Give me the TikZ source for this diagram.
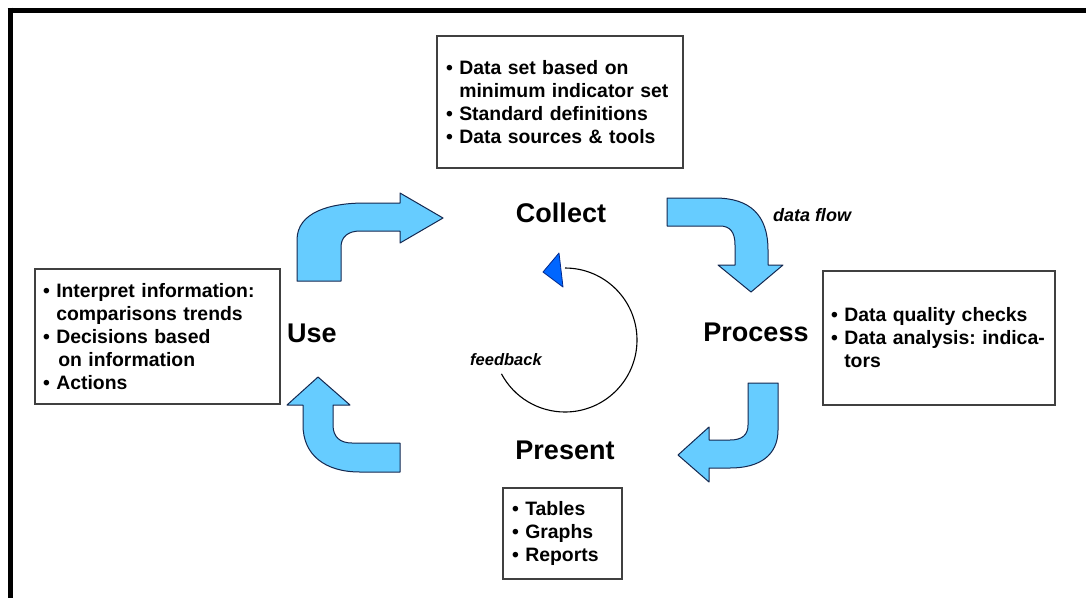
\documentclass[tikz,border=0pt]{standalone}
\usepackage{fontspec}
\setmainfont{Liberation Sans}
\frenchspacing
\begin{document}
\begin{tikzpicture}[x=1pt,y=-1pt,
  infobox/.style={draw=black!75, line width=1.4pt, fill=white, align=left,
    inner xsep=9pt, inner ysep=0pt, font=\bfseries\fontsize{19.4}{23}\selectfont},
  stage/.style={font=\bfseries\fontsize{27}{30}\selectfont},
  note/.style={font=\bfseries\itshape\fontsize{18}{20}\selectfont},
  bigarrow/.style={fill=arrowblue, draw=arrowedge, line width=1pt, line join=round},
  frame/.style={line width=5pt, black}
]
\definecolor{arrowblue}{RGB}{102,204,255}
\definecolor{arrowedge}{RGB}{20,40,80}
\definecolor{tipblue}{RGB}{0,102,255}
\definecolor{tipedge}{RGB}{0,40,140}
\newcommand{\bul}{\textbullet\ }
\newcommand{\ind}{\phantom{\textbullet\ }}

\useasboundingbox (0,0) rectangle (1086,598);
\fill[white] (0,0) rectangle (1086,598);

% outer frame (top and left edges)
\draw[frame] (7.5,10) -- (1086,10);
\draw[frame] (10,7.5) -- (10,598);

% information boxes
\node[infobox, minimum width=246pt, minimum height=132pt, text width=228pt] (collectbox) at (560,102)
  {\bul Data set based on\\ \ind minimum indicator set\\ \bul Standard definitions\\ \bul Data sources \& tools};
\node[infobox, minimum width=245pt, minimum height=135pt, text width=229pt, inner xsep=8pt] (usebox) at (157.5,336.5)
  {\bul Interpret information:\\ \ind comparisons trends\\ \bul Decisions based\\ \ind\hspace*{2pt}on information\\ \bul Actions};
\node[infobox, minimum width=232pt, minimum height=134pt, text width=216pt, inner xsep=8pt] (processbox) at (939,338)
  {\bul Data quality checks\\ \bul Data analysis: indica-\\ \ind tors};
\node[infobox, minimum width=119pt, minimum height=91pt, text width=101pt] (presentbox) at (562.5,533.5)
  {\bul Tables\\ \bul Graphs\\ \bul Reports};

% stage labels
\node[stage] (collect) at (561,213) {Collect};
\node[stage] (process) at (756,332) {Process};
\node[stage] (present) at (565,450) {Present};
\node[stage] (use) at (312,333) {Use};
\node[note] (dataflow) at (812,215) {data flow};
\node[note, font=\bfseries\itshape\fontsize{16.5}{19}\selectfont] (feedback) at (506,360) {feedback};

% feedback loop
\draw[line width=1.1pt] (565,268) arc[start angle=-90, end angle=152, radius=72];
\fill[tipblue, draw=tipedge, line width=0.8pt, line join=round] (543,272) -- (559,253) -- (563,287) -- cycle;

% curved block arrows
% Use -> Collect
\draw[bigarrow] (297,281) -- (297,240) .. controls (297,212) and (330,203) .. (365,203)
  -- (400,203) -- (400,193) -- (443,218) -- (400,243) -- (400,231) -- (360,231)
  .. controls (348,231) and (341,237) .. (341,247) -- (341,281) -- cycle;
% Collect -> Process
\draw[bigarrow] (667,198) -- (715,198) .. controls (750,198) and (768,215) .. (768,250)
  -- (768,265) -- (783,265) -- (751,292) -- (718,265) -- (735,265) -- (735,245)
  .. controls (735,232) and (730,226) .. (720,226) -- (667,226) -- cycle;
% Process -> Present
\draw[bigarrow] (748,383) -- (778,383) -- (778,430) .. controls (778,455) and (760,468) .. (730,468)
  -- (709,468) -- (709,482) -- (678,455) -- (709,427) -- (709,440) -- (730,440)
  .. controls (742,440) and (748,435) .. (748,425) -- cycle;
% Present -> Use
\draw[bigarrow] (303,405) -- (303,425) .. controls (303,455) and (325,472) .. (360,472)
  -- (400,472) -- (400,443) -- (352,443) .. controls (340,443) and (333,437) .. (333,425)
  -- (333,405) -- (350,405) -- (318,377) -- (287,405) -- cycle;
\end{tikzpicture}
\end{document}
